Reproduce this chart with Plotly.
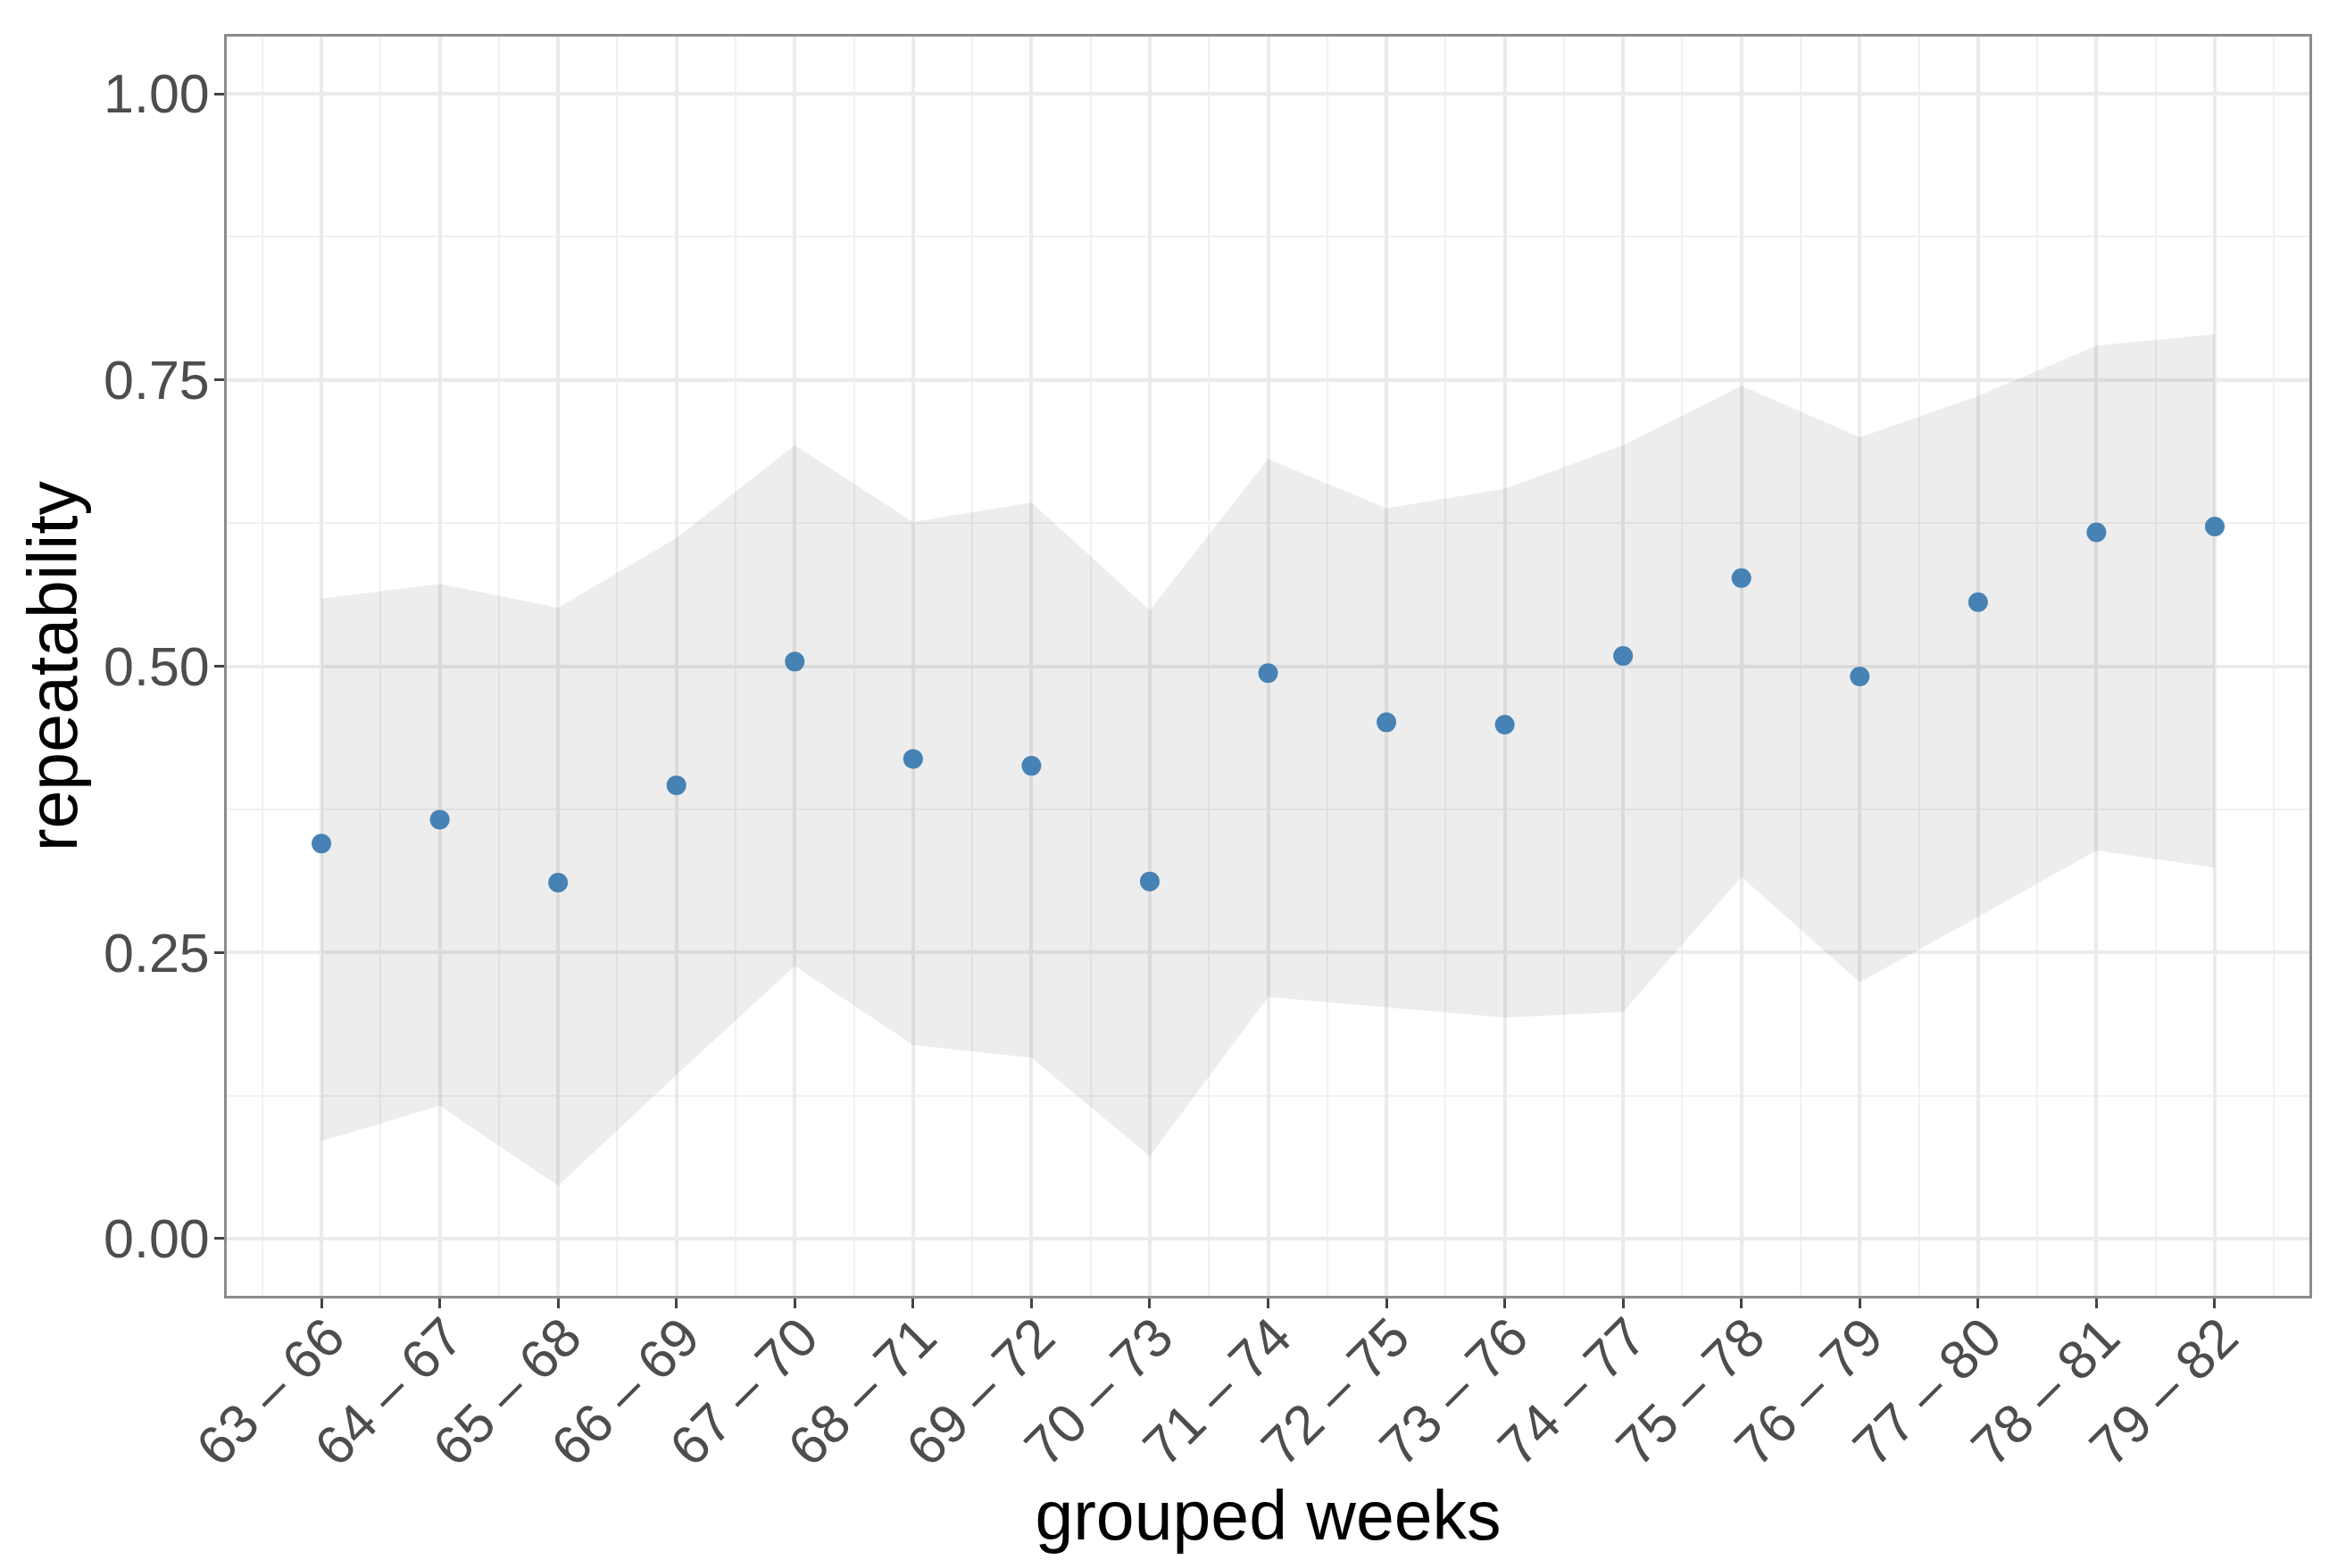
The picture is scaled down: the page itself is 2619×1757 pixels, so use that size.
import plotly.graph_objects as go

# ---- data ----
week_groups = ["63 – 66", "64 – 67", "65 – 68", "66 – 69", "67 – 70", "68 – 71",
               "69 – 72", "70 – 73", "71 – 74", "72 – 75", "73 – 76", "74 – 77",
               "75 – 78", "76 – 79", "77 – 80", "78 – 81", "79 – 82"]
repeatability = [0.345, 0.366, 0.311, 0.396, 0.504, 0.419, 0.413, 0.312, 0.494,
                 0.451, 0.449, 0.509, 0.577, 0.491, 0.556, 0.617, 0.622]
ci_upper = [0.559, 0.572, 0.551, 0.612, 0.693, 0.626, 0.643, 0.549, 0.681,
            0.638, 0.655, 0.693, 0.745, 0.700, 0.736, 0.780, 0.790]
ci_lower = [0.085, 0.116, 0.046, 0.143, 0.238, 0.169, 0.158, 0.072, 0.211,
            0.202, 0.193, 0.198, 0.316, 0.224, 0.281, 0.339, 0.324]
y_ticks = [0.0, 0.25, 0.5, 0.75, 1.0]

x_pos = list(range(1, len(week_groups) + 1))

FONT = "Liberation Sans, Arial, Helvetica, sans-serif"
GRID = "#ebebeb"

fig = go.Figure()
fig.add_trace(go.Scatter(x=x_pos, y=ci_lower, mode="lines",
                         line=dict(width=0), hoverinfo="skip", showlegend=False))
fig.add_trace(go.Scatter(x=x_pos, y=ci_upper, mode="lines", fill="tonexty",
                         fillcolor="rgba(0,0,0,0.07)", line=dict(width=0),
                         hoverinfo="skip", showlegend=False))
fig.add_trace(go.Scatter(x=x_pos, y=repeatability, mode="markers",
                         marker=dict(color="#4682B4", size=22, line=dict(width=0)),
                         showlegend=False))

n = len(week_groups)
fig.update_layout(
    width=2619, height=1757,
    margin=dict(l=254, r=32, t=41, b=305),
    paper_bgcolor="white", plot_bgcolor="white",
    font=dict(family=FONT),
    showlegend=False,
)
fig.update_xaxes(
    range=[0.2, n + 0.8],
    automargin=False,
    tickmode="array", tickvals=x_pos, ticktext=week_groups,
    tickangle=-45,
    tickfont=dict(size=61, color="#4d4d4d", family=FONT),
    ticks="outside", ticklen=11, tickwidth=3, tickcolor="#444444",
    ticklabelstandoff=-28, ticklabelshift=8,
    showgrid=True, gridcolor=GRID, gridwidth=3.5,
    minor=dict(tickmode="linear", tick0=0.5, dtick=1, showgrid=True,
               gridcolor="#f1f1f1", gridwidth=2.2, ticks=""),
    showline=True, mirror=True, linecolor="#8c8c8c", linewidth=3,
    zeroline=False,
    title=dict(text="grouped weeks", font=dict(size=77, color="black", family=FONT),
               standoff=14),
)
fig.update_yaxes(
    range=[-0.05, 1.05],
    automargin=False,
    tickmode="array", tickvals=y_ticks, ticktext=[f"{v:.2f}" for v in y_ticks],
    tickfont=dict(size=61, color="#4d4d4d", family=FONT),
    ticks="outside", ticklen=11, tickwidth=3, tickcolor="#444444",
    ticklabelstandoff=-7,
    showgrid=True, gridcolor=GRID, gridwidth=3.5,
    minor=dict(tickmode="linear", tick0=0.125, dtick=0.25, showgrid=True,
               gridcolor="#f1f1f1", gridwidth=2.2, ticks=""),
    showline=True, mirror=True, linecolor="#8c8c8c", linewidth=3,
    zeroline=False,
    title=dict(text="repeatability", font=dict(size=77, color="black", family=FONT),
               standoff=5),
)

fig.write_html("out.html", config={"displayModeBar": False},
               post_script="document.body.style.margin='0';document.body.style.overflow='hidden';")
